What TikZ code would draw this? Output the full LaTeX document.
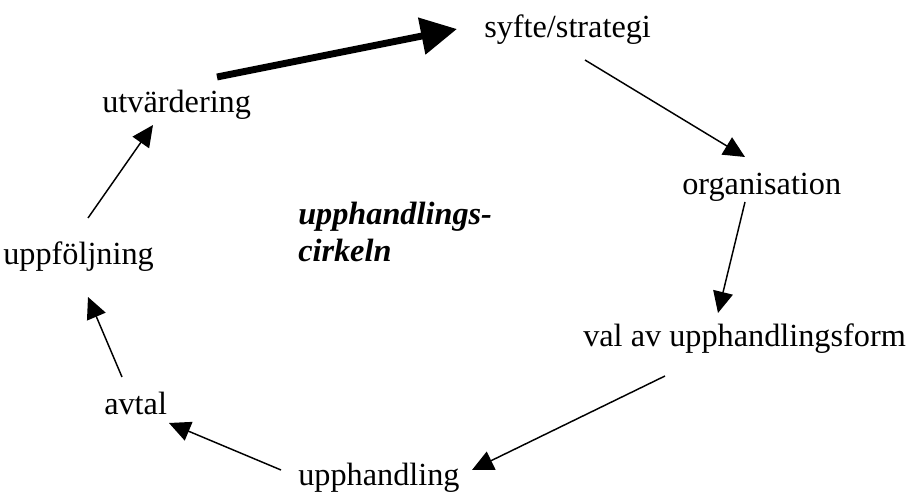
\documentclass[tikz,border=0pt]{standalone}
\usepackage{fontspec}
\setmainfont{Liberation Serif}
\usetikzlibrary{arrows.meta}
\begin{document}
\begin{tikzpicture}[x=0.75pt,y=-0.75pt,
  lbl/.style={anchor=base west,inner sep=0pt,font=\fontsize{24.2}{27.8}\selectfont},
  conn/.style={line width=1.1pt,-{Triangle[length=16pt,width=15pt]}},
  bigconn/.style={line width=5.2pt,-{Triangle[length=27pt,width=27pt]}}]
\useasboundingbox (0,0) rectangle (908,495);
\node[lbl] (syf) at (484,38) {syfte/strategi};
\node[lbl] (org) at (682,195) {organisation};
\node[lbl] (val) at (583,347) {val av upphandlingsform};
\node[lbl] (upp) at (298,486) {upphandling};
\node[lbl] (avt) at (104,415) {avtal};
\node[lbl] (fol) at (3,265) {uppföljning};
\node[lbl] (utv) at (102,113) {utvärdering};
\node[lbl,align=left,font=\fontsize{24.2}{27.8}\selectfont\bfseries\itshape] (cir) at (298,262) {upphandlings-\\cirkeln};
\coordinate (a1) at (217,77);  \coordinate (b1) at (457,29);
\coordinate (a2) at (585,60);  \coordinate (b2) at (745,157);
\coordinate (a3) at (745,202); \coordinate (b3) at (718,313);
\coordinate (a4) at (665,376); \coordinate (b4) at (472,470);
\coordinate (a5) at (281,470); \coordinate (b5) at (169,423);
\coordinate (a6) at (122,377); \coordinate (b6) at (88,297);
\coordinate (a7) at (88,218);  \coordinate (b7) at (153,125);
\draw[bigconn] (a1) -- (b1);
\draw[conn] (a2) -- (b2);
\draw[conn] (a3) -- (b3);
\draw[conn] (a4) -- (b4);
\draw[conn] (a5) -- (b5);
\draw[conn] (a6) -- (b6);
\draw[conn] (a7) -- (b7);
\end{tikzpicture}
\end{document}
